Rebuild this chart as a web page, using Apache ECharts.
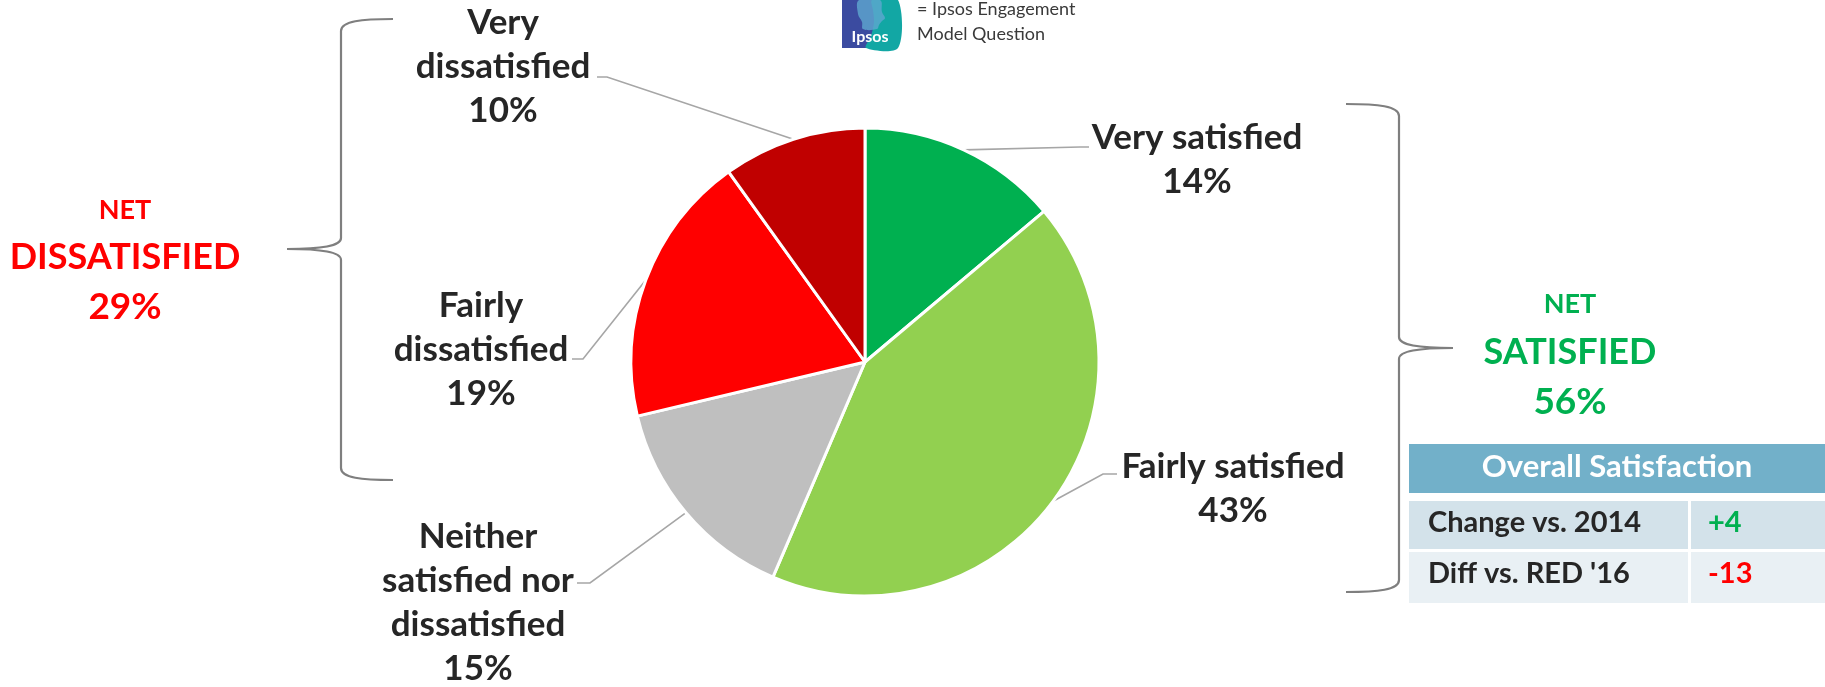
<!DOCTYPE html>
<html>
<head>
<meta charset="utf-8">
<title>Overall Satisfaction</title>
<script src="https://cdn.jsdelivr.net/npm/echarts@6/dist/echarts.min.js"></script>
<style>
  html, body { margin: 0; padding: 0; background: #ffffff; }
  #chart { width: 1825px; height: 687px; }
</style>
</head>
<body>
<div id="chart"></div>
<script>
// Satisfaction breakdown (percent of respondents)
var categories = ['Very satisfied', 'Fairly satisfied', 'Neither satisfied nor dissatisfied', 'Fairly dissatisfied', 'Very dissatisfied'];
var labelText = ['Very satisfied', 'Fairly satisfied', 'Neither\nsatisfied nor\ndissatisfied', 'Fairly\ndissatisfied', 'Very\ndissatisfied'];
var values = [14, 43, 15, 19, 10];
var sliceColors = ['#00B050', '#92D050', '#BFBFBF', '#FF0000', '#C00000'];

// Net groupings shown beside the brackets
var netLabels = ['DISSATISFIED', 'SATISFIED'];
var netValues = [29, 56];

// Summary table
var tableTitle = 'Overall Satisfaction';
var tableRows = ['Change vs. 2014', "Diff vs. RED '16"];
var tableValues = ['+4', '-13'];

var FONT = 'Lato, "Open Sans", sans-serif';
var TEXT_DARK = '#262626';

// Where each slice label sits: block centre, line attach point and elbow x
var labelSpots = [
  { cx: 1197, cy: 160, ax: 1089, ay: 147, ex: 1080 },
  { cx: 1233, cy: 489, ax: 1117, ay: 474, ex: 1103 },
  { cx: 478,  cy: 603, ax: 577,  ay: 583, ex: 590 },
  { cx: 481,  cy: 350, ax: 572,  ay: 359, ex: 583 },
  { cx: 503,  cy: 67,  ax: 597,  ay: 77,  ex: 607 }
];

var pieData = categories.map(function (name, i) {
  return {
    name: name,
    value: values[i],
    itemStyle: { color: sliceColors[i] },
    label: { formatter: labelText[i] + '\n' + values[i] + '%' }
  };
});

var chart = echarts.init(document.getElementById('chart'), null, { renderer: 'canvas' });

var BRACE_STYLE = { fill: null, stroke: '#7F7F7F', lineWidth: 2.2 };

// Curly brace made of straight runs and bezier bends.
// xEnd: x of the two tips, xBar: x of the vertical bar, xPoint: x of the middle point
function brace(xEnd, xBar, xPoint, yTop, yMid, yBot) {
  var dir = xPoint > xBar ? 1 : -1;       // direction the middle point faces
  var e = xEnd, b = xBar, p = xPoint;
  var k = (e - b);                        // horizontal run of the end curls
  var m = (p - b);                        // horizontal run of the middle point
  var segs = [
    { type: 'bezierCurve', shape: { x1: e, y1: yTop, cpx1: b + k * 0.4, cpy1: yTop, cpx2: b, cpy2: yTop + 2, x2: b, y2: yTop + 12 } },
    { type: 'line', shape: { x1: b, y1: yTop + 12, x2: b, y2: yMid - 11 } },
    { type: 'bezierCurve', shape: { x1: b, y1: yMid - 11, cpx1: b, cpy1: yMid - 3, cpx2: b + m * 0.35, cpy2: yMid, x2: p, y2: yMid } },
    { type: 'bezierCurve', shape: { x1: p, y1: yMid, cpx1: b + m * 0.35, cpy1: yMid, cpx2: b, cpy2: yMid + 3, x2: b, y2: yMid + 11 } },
    { type: 'line', shape: { x1: b, y1: yMid + 11, x2: b, y2: yBot - 12 } },
    { type: 'bezierCurve', shape: { x1: b, y1: yBot - 12, cpx1: b, cpy1: yBot - 2, cpx2: b + k * 0.4, cpy2: yBot, x2: e, y2: yBot } }
  ];
  return segs.map(function (s) {
    s.z = 5;
    s.style = BRACE_STYLE;
    return s;
  });
}

var graphics = [];
graphics = graphics.concat(brace(393, 341, 287, 19, 249, 480));
graphics = graphics.concat(brace(1346, 1399, 1453, 104, 348, 592));

// Net totals
function netBlock(x, yNet, yLabel, yValue, color, label, value) {
  return [
    { type: 'text', x: x, y: yNet, z: 6, style: { text: 'NET', fill: color, font: 'bold 27px ' + FONT, align: 'center', verticalAlign: 'middle' } },
    { type: 'text', x: x, y: yLabel, z: 6, style: { text: label, fill: color, font: 'bold 36px ' + FONT, align: 'center', verticalAlign: 'middle' } },
    { type: 'text', x: x, y: yValue, z: 6, style: { text: value + '%', fill: color, font: 'bold 37px ' + FONT, align: 'center', verticalAlign: 'middle' } }
  ];
}
graphics = graphics.concat(netBlock(125, 210, 257, 307, '#FF0000', netLabels[0], netValues[0]));
graphics = graphics.concat(netBlock(1570, 304, 352, 402, '#00B050', netLabels[1], netValues[1]));

// Summary table
graphics.push({ type: 'rect', z: 5, shape: { x: 1409, y: 444, width: 416, height: 49 }, style: { fill: '#72B0C9' } });
graphics.push({ type: 'text', z: 6, x: 1617, y: 467, style: { text: tableTitle, fill: '#ffffff', font: 'bold 31px ' + FONT, align: 'center', verticalAlign: 'middle' } });
var rowTops = [501, 552];
var rowFills = ['#D3E2EA', '#E9F0F4'];
var valueColors = ['#00B050', '#FF0000'];
tableRows.forEach(function (row, i) {
  var h = i ? 51 : 48;
  graphics.push({ type: 'rect', z: 5, shape: { x: 1409, y: rowTops[i], width: 279, height: h }, style: { fill: rowFills[i] } });
  graphics.push({ type: 'rect', z: 5, shape: { x: 1691, y: rowTops[i], width: 134, height: h }, style: { fill: rowFills[i] } });
  graphics.push({ type: 'text', z: 6, x: 1428, y: rowTops[i] + 22, style: { text: row, fill: TEXT_DARK, font: 'bold 29px ' + FONT, align: 'left', verticalAlign: 'middle' } });
  graphics.push({ type: 'text', z: 6, x: 1708, y: rowTops[i] + 22, style: { text: tableValues[i], fill: valueColors[i], font: 'bold 29px ' + FONT, align: 'left', verticalAlign: 'middle' } });
});

// Engagement-model badge and its caption
graphics.push({
  type: 'group', z: 6, x: 842, y: 0,
  children: [
    { type: 'rect', shape: { x: 0, y: 0, width: 56, height: 48 }, style: { fill: '#3B4BA0' } },
    { type: 'polygon', shape: { points: [[30, 0], [56, 0], [56, 48], [24, 48], [29, 36], [32, 22], [31, 10]], smooth: 0.3 }, style: { fill: '#12A7A4' } },
    { type: 'polygon', shape: { points: [[17, 0], [38, 0], [40, 12], [43, 18], [40, 21], [37, 25], [35, 29], [21, 29], [20, 22], [16, 14]], smooth: 0.4 }, style: { fill: '#5FA8D0', opacity: 0.8 } },
    { type: 'text', x: 28, y: 37, style: { text: 'Ipsos', fill: '#ffffff', font: 'bold 16px ' + FONT, align: 'center', verticalAlign: 'middle' } }
  ]
});
graphics.push({ type: 'text', z: 6, x: 917, y: 9, style: { text: '= Ipsos Engagement', fill: '#3A3A3A', font: '18px ' + FONT, align: 'left', verticalAlign: 'middle' } });
graphics.push({ type: 'text', z: 6, x: 917, y: 34, style: { text: 'Model Question', fill: '#3A3A3A', font: '18px ' + FONT, align: 'left', verticalAlign: 'middle' } });

var option = {
  backgroundColor: '#ffffff',
  animation: false,
  graphic: graphics,
  series: [{
    type: 'pie',
    center: [865, 362],
    radius: 234,
    startAngle: 90,
    clockwise: true,
    avoidLabelOverlap: false,
    data: pieData,
    itemStyle: { borderColor: '#ffffff', borderWidth: 3 },
    label: {
      show: true,
      position: 'outside',
      color: TEXT_DARK,
      fontFamily: FONT,
      fontWeight: 'bold',
      fontSize: 35,
      lineHeight: 44,
      align: 'center'
    },
    labelLine: {
      show: true,
      length: 20,
      length2: 20,
      lineStyle: { color: '#A6A6A6', width: 1.6 }
    },
    labelLayout: function (params) {
      var spot = labelSpots[params.dataIndex];
      var start = params.labelLinePoints ? params.labelLinePoints[0] : [spot.ex, spot.ay];
      return {
        x: spot.cx,
        y: spot.cy,
        align: 'center',
        verticalAlign: 'middle',
        labelLinePoints: [start, [spot.ex, spot.ay], [spot.ax, spot.ay]]
      };
    },
    emphasis: { disabled: true }
  }]
};

chart.setOption(option);
</script>
</body>
</html>
